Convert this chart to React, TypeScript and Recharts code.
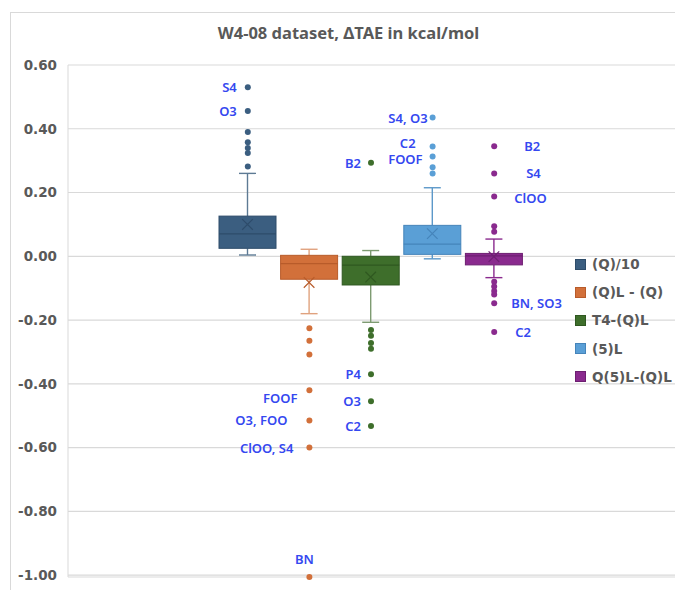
import React from "react";
import { ComposedChart, Bar, Scatter, XAxis, YAxis, CartesianGrid } from "recharts";

// box stats, one value per series
const SERIES = ["(Q)/10", "(Q)L - (Q)", "T4-(Q)L", "(5)L", "Q(5)L-(Q)L"];
const WHISKER_LO = [0.004, -0.18, -0.207, -0.008, -0.067];
const Q1 = [0.025, -0.072, -0.09, 0.006, -0.027];
const MEDIAN = [0.07, -0.023, -0.028, 0.038, 0.001];
const Q3 = [0.126, 0.003, 0.0, 0.097, 0.009];
const WHISKER_HI = [0.26, 0.022, 0.018, 0.215, 0.054];
const MEAN = [0.1, -0.082, -0.065, 0.071, -0.001];

const OUTLIERS = [
  [0.53, 0.456, 0.39, 0.358, 0.34, 0.324, 0.282],
  [-0.226, -0.265, -0.308, -0.42, -0.515, -0.6, -1.006],
  [0.293, -0.231, -0.249, -0.272, -0.29, -0.37, -0.455, -0.532],
  [0.435, 0.344, 0.313, 0.279, 0.26],
  [0.345, 0.26, 0.1875, 0.094, 0.077, -0.08, -0.095, -0.109, -0.12, -0.147, -0.2375],
];
const OUTLIER_LABELS = [
  ["S4", "O3", "", "", "", "", ""],
  ["", "", "", "FOOF", "O3, FOO", "ClOO, S4", "BN"],
  ["B2", "", "", "", "", "P4", "O3", "C2"],
  ["S4, O3", "C2", "FOOF", "", ""],
  ["B2", "S4", "ClOO", "", "", "", "", "", "", "BN, SO3", "C2"],
];

const Y_TICKS = [0.6, 0.4, 0.2, 0, -0.2, -0.4, -0.6, -0.8, -1.0];

const FILL = ["#3B5E80", "#D2703A", "#3E6E2B", "#5A9FD6", "#8A2A8E"];
const EDGE = ["#2E4C6A", "#B85B2A", "#2F5820", "#4584BA", "#6D1F71"];
const WHISKER = ["#5D7A94", "#E0A27E", "#7E9B72", "#5C98C9", "#8A2A8E"];
const LABEL_BLUE = "#3548F0";
const TEXT = "#595959";
const GRID = "#d9d9d9";

// label placement nudges: [dx from dot, dy]
const LABEL_POS: Record<string, [number, number]> = {
  "0|S4": [-11, 0],
  "0|O3": [-11, 0],
  "1|FOOF": [-12, 8],
  "1|O3, FOO": [-22, 0],
  "1|ClOO, S4": [-16, 0],
  "2|B2": [-10, 0],
  "2|P4": [-10, 0],
  "2|O3": [-10, 0],
  "2|C2": [-10, 0],
  "3|S4, O3": [-5, 0],
  "3|C2": [-17, -4],
  "3|FOOF": [-10, 3],
  "4|B2": [30, 0],
  "4|S4": [32, 0],
  "4|ClOO": [20, 1],
  "4|BN, SO3": [17, 0],
  "4|C2": [21, 0],
};

const maxOut = Math.max(...OUTLIERS.map((o) => o.length));

const rows = SERIES.map((name, i) => {
  const row: any = { name, idx: i, range: [WHISKER_LO[i], WHISKER_HI[i]] };
  OUTLIERS[i].forEach((v, k) => {
    row["o" + k] = v;
    row["l" + k] = OUTLIER_LABELS[i][k];
  });
  return row;
});

function BoxShape(props: any) {
  const { x, y, width, height, payload } = props;
  const i = payload.idx;
  const lo = WHISKER_LO[i];
  const hi = WHISKER_HI[i];
  const top = Math.min(y, y + height);
  const h = Math.abs(height);
  const yOf = (v: number) => top + ((hi - v) / (hi - lo)) * h;
  const cx = x + width / 2;
  const cap = 8.5;
  const yq1 = yOf(Q1[i]);
  const yq3 = yOf(Q3[i]);
  const ym = yOf(MEAN[i]);
  return (
    <g>
      <line x1={cx} x2={cx} y1={yOf(hi)} y2={yq3} stroke={WHISKER[i]} strokeWidth={1.4} />
      <line x1={cx} x2={cx} y1={yq1} y2={yOf(lo)} stroke={WHISKER[i]} strokeWidth={1.4} />
      <line x1={cx - cap} x2={cx + cap} y1={yOf(hi)} y2={yOf(hi)} stroke={WHISKER[i]} strokeWidth={1.4} />
      <line x1={cx - cap} x2={cx + cap} y1={yOf(lo)} y2={yOf(lo)} stroke={WHISKER[i]} strokeWidth={1.4} />
      <rect x={x} y={yq3} width={width} height={Math.max(yq1 - yq3, 1)} fill={FILL[i]} stroke={EDGE[i]} strokeWidth={1} />
      <line x1={x} x2={x + width} y1={yOf(MEDIAN[i])} y2={yOf(MEDIAN[i])} stroke={EDGE[i]} strokeWidth={1.3} />
      <path
        d={`M${cx - 5.3},${ym - 5.3}L${cx + 5.3},${ym + 5.3}M${cx - 5.3},${ym + 5.3}L${cx + 5.3},${ym - 5.3}`}
        stroke={EDGE[i]}
        strokeWidth={1.2}
        fill="none"
      />
    </g>
  );
}

function makeOutlierShape(k: number) {
  return (props: any) => {
    const { cx, cy, payload } = props;
    if (cy == null || Number.isNaN(cy) || payload["o" + k] == null) return <g />;
    const i = payload.idx;
    const label: string = payload["l" + k];
    let text = null;
    if (label) {
      if (label === "BN" && i === 1) {
        text = (
          <text x={cx - 5} y={cy - 18} textAnchor="middle" dominantBaseline="central" fill={LABEL_BLUE} fontSize={13} fontWeight={600} fontFamily="Noto Sans">
            {label}
          </text>
        );
      } else {
        const [dx, dy] = LABEL_POS[i + "|" + label] || [i === 4 ? 20 : -10, 0];
        text = (
          <text x={cx + dx} y={cy + dy} textAnchor={dx < 0 ? "end" : "start"} dominantBaseline="central" fill={LABEL_BLUE} fontSize={13} fontWeight={600} fontFamily="Noto Sans">
            {label}
          </text>
        );
      }
    }
    return (
      <g>
        <circle cx={cx} cy={cy} r={3} fill={FILL[i]} />
        {text}
      </g>
    );
  };
}

export default function App() {
  return (
    <div style={{ position: "fixed", left: 0, top: 0, width: 675, height: 590, overflow: "hidden", background: "#fff" }}>
      <div style={{ position: "absolute", left: 10, top: 12, width: 800, height: 800, borderLeft: `1px solid ${GRID}`, borderTop: `1px solid ${GRID}` }} />
      <div
        style={{
          position: "absolute",
          left: 8,
          width: 681,
          top: 21,
          textAlign: "center",
          fontFamily: "Noto Sans",
          fontWeight: 700,
          fontSize: 16.5,
          color: TEXT,
        }}
      >
        W4-08 dataset, ΔTAE in kcal/mol
      </div>
      <div style={{ position: "absolute", left: 8, top: 8 }}>
        <ComposedChart width={667} height={582} data={rows} margin={{ top: 57, right: 0, bottom: 13, left: 0 }}>
          <CartesianGrid vertical={false} stroke={GRID} strokeWidth={1.2} />
          <XAxis dataKey="name" type="category" hide height={0} padding={{ left: 149, right: 150 }} allowDuplicatedCategory={false} />
          <YAxis
            type="number"
            domain={[-1, 0.6]}
            ticks={Y_TICKS}
            interval={0}
            width={60}
            axisLine={{ stroke: GRID }}
            tickLine={false}
            tickSize={6}
            tickMargin={5}
            tickFormatter={(v: number) => v.toFixed(2)}
            tick={{ fill: TEXT, fontSize: 13.5, fontWeight: 700, fontFamily: "DejaVu Sans" }}
          />
          <Bar dataKey="range" barSize={57} isAnimationActive={false} shape={BoxShape} />
          {Array.from({ length: maxOut }, (_, k) => (
            <Scatter key={k} dataKey={"o" + k} isAnimationActive={false} shape={makeOutlierShape(k)} />
          ))}
        </ComposedChart>
      </div>
      <div style={{ position: "absolute", left: 575, top: 250 }}>
        {SERIES.map((s, i) => (
          <div key={s} style={{ display: "flex", alignItems: "center", height: 28.2 }}>
            <span style={{ width: 11, height: 11, background: FILL[i], border: `1px solid ${EDGE[i]}`, boxSizing: "border-box", marginRight: 6 }} />
            <span style={{ fontFamily: "DejaVu Sans", fontWeight: 700, fontSize: 13.5, color: TEXT, whiteSpace: "nowrap" }}>{s}</span>
          </div>
        ))}
      </div>
    </div>
  );
}
